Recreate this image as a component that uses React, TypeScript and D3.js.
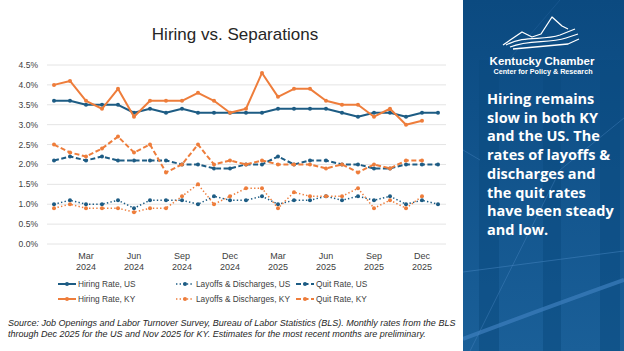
import * as d3 from "d3"

const W = 624
const H = 351

// monthly rates, % (Excel category axis, 25 slots)
const months = d3.range(25).map((i) => new Date(2024, i, 1))
const tickMonths = [2, 5, 8, 11] // Mar, Jun, Sep, Dec

const hiringUS = [3.6, 3.6, 3.5, 3.5, 3.5, 3.3, 3.4, 3.3, 3.4, 3.3, 3.3, 3.3, 3.3, 3.3, 3.4, 3.4, 3.4, 3.4, 3.3, 3.2, 3.3, 3.3, 3.2, 3.3, 3.3]
const hiringKY = [4.0, 4.1, 3.6, 3.4, 3.9, 3.2, 3.6, 3.6, 3.6, 3.8, 3.6, 3.3, 3.4, 4.3, 3.7, 3.9, 3.9, 3.6, 3.5, 3.5, 3.2, 3.4, 3.0, 3.1]
const layoffsUS = [1.0, 1.1, 1.0, 1.0, 1.1, 0.9, 1.1, 1.1, 1.1, 1.0, 1.2, 1.1, 1.1, 1.2, 1.0, 1.1, 1.1, 1.2, 1.1, 1.2, 1.1, 1.2, 1.0, 1.1, 1.0]
const layoffsKY = [0.9, 1.0, 0.9, 0.9, 0.9, 0.8, 0.9, 0.9, 1.2, 1.5, 1.0, 1.2, 1.4, 1.4, 0.9, 1.3, 1.2, 1.2, 1.2, 1.4, 0.9, 1.1, 0.9, 1.2]
const quitUS = [2.1, 2.2, 2.1, 2.2, 2.1, 2.1, 2.1, 2.1, 2.0, 2.0, 1.9, 1.9, 2.0, 2.0, 2.2, 2.0, 2.1, 2.1, 2.0, 2.0, 1.9, 1.9, 2.0, 2.0, 2.0]
const quitKY = [2.5, 2.3, 2.2, 2.4, 2.7, 2.3, 2.5, 1.8, 2.0, 2.5, 2.0, 2.1, 2.0, 2.1, 2.0, 2.0, 2.0, 1.9, 2.0, 1.8, 2.0, 1.9, 2.1, 2.1]

const yTicks = [0, 0.5, 1, 1.5, 2, 2.5, 3, 3.5, 4, 4.5]

const BLUE = "#1d5c84"
const ORANGE = "#ee7d3b"

const SOLID = ""
const DASH = "5,2.5"
const DOT = "1.4,2.2"

const series = [
  { name: "Hiring Rate, US", values: hiringUS, color: BLUE, dash: SOLID, width: 2 },
  { name: "Layoffs & Discharges, US", values: layoffsUS, color: BLUE, dash: DOT, width: 1.5 },
  { name: "Quit Rate, US", values: quitUS, color: BLUE, dash: DASH, width: 2 },
  { name: "Hiring Rate, KY", values: hiringKY, color: ORANGE, dash: SOLID, width: 2 },
  { name: "Layoffs & Discharges, KY", values: layoffsKY, color: ORANGE, dash: DOT, width: 1.5 },
  { name: "Quit Rate, KY", values: quitKY, color: ORANGE, dash: DASH, width: 2 },
]

const panelLines = [
  "Hiring remains",
  "slow in both KY",
  "and the US. The",
  "rates of layoffs &",
  "discharges and",
  "the quit rates",
  "have been steady",
  "and low.",
]

const FONT = "'Liberation Sans', Arial, sans-serif"

function Chart() {
  const x = d3.scalePoint<number>().domain(d3.range(months.length)).range([54, 438])
  const y = d3.scaleLinear().domain([0, 4.5]).range([244, 65])
  const line = d3
    .line<number>()
    .x((_, i) => x(i)!)
    .y((d) => y(d))
  const fmtM = d3.timeFormat("%b")
  const fmtY = d3.timeFormat("%Y")

  const legendX = [58, 176, 296]
  const legendY = [284, 299]

  return (
    <g>
      <text x={235} y={40} textAnchor="middle" fontSize={17} fill="#262626" fontFamily={FONT}>
        Hiring vs. Separations
      </text>
      {yTicks.map((t) => (
        <g key={t}>
          <line x1={47} x2={446} y1={y(t)} y2={y(t)} stroke="#e4e4e4" strokeWidth={1} />
          <text x={38} y={y(t)} dy="0.35em" textAnchor="end" fontSize={8.5} fill="#404040" fontFamily={FONT}>
            {d3.format(".1f")(t)}%
          </text>
        </g>
      ))}
      {months.map((m, i) =>
        tickMonths.includes(m.getMonth()) ? (
          <text key={i} x={x(i)} textAnchor="middle" fontSize={9} fill="#404040" fontFamily={FONT}>
            <tspan x={x(i)} y={259}>{fmtM(m)}</tspan>
            <tspan x={x(i)} y={270}>{fmtY(m)}</tspan>
          </text>
        ) : null
      )}
      {series.map((s) => (
        <g key={s.name}>
          <path
            d={line(s.values) ?? ""}
            fill="none"
            stroke={s.color}
            strokeWidth={s.width}
            strokeDasharray={s.dash || undefined}
            strokeLinejoin="round"
          />
          {s.values.map((v, i) => (
            <circle key={i} cx={x(i)} cy={y(v)} r={2} fill={s.color} />
          ))}
        </g>
      ))}
      {series.map((s, k) => {
        const lx = legendX[k % 3]
        const ly = legendY[Math.floor(k / 3)]
        return (
          <g key={s.name}>
            <line x1={lx} x2={lx + 18} y1={ly} y2={ly} stroke={s.color} strokeWidth={s.width} strokeDasharray={s.dash || undefined} />
            <circle cx={lx + 9} cy={ly} r={2} fill={s.color} />
            <text x={lx + 20} y={ly} dy="0.35em" fontSize={8.3} fill="#404040" fontFamily={FONT}>
              {s.name}
            </text>
          </g>
        )
      })}
      <text fontSize={9} fontStyle="italic" fill="#262626" fontFamily={FONT}>
        <tspan x={8} y={326}>
          Source: Job Openings and Labor Turnover Survey, Bureau of Labor Statistics (BLS). Monthly rates from the BLS
        </tspan>
        <tspan x={8} y={337}>
          through Dec 2025 for the US and Nov 2025 for KY. Estimates for the most recent months are preliminary.
        </tspan>
      </text>
    </g>
  )
}

function Panel() {
  const px = 463
  return (
    <g>
      <defs>
        <linearGradient id="pg" x1="0" y1="0" x2="0" y2="1">
          <stop offset="0" stopColor="#0b4a80" />
          <stop offset="0.3" stopColor="#0f5088" />
          <stop offset="1" stopColor="#1a5f98" />
        </linearGradient>
        <clipPath id="pc">
          <rect x={px} y={0} width={W - px} height={H} />
        </clipPath>
      </defs>
      <rect x={px} y={0} width={W - px} height={H} fill="url(#pg)" />
      <g clipPath="url(#pc)">
        <rect x={479} y={60} width={20} height={H} fill="#0b4a80" opacity={0.55} />
        <rect x={543} y={60} width={18} height={H} fill="#0b4a80" opacity={0.55} />
        <rect x={600} y={60} width={20} height={H} fill="#0b4a80" opacity={0.55} />
        <path d="M463,339 Q540,310 624,280" stroke="#3d7fbe" strokeWidth={4} fill="none" opacity={0.7} />
        <path d="M463,272 L624,251" stroke="#4a88c4" strokeWidth={0.8} fill="none" opacity={0.6} />
        <path d="M470,351 L560,170 L624,118" stroke="#4a88c4" strokeWidth={0.8} fill="none" opacity={0.5} />
        <path d="M463,150 L480,160" stroke="#4a88c4" strokeWidth={0.8} fill="none" opacity={0.5} />
        <path d="M560,0 L500,70" stroke="#2f6aa6" strokeWidth={0.7} fill="none" opacity={0.5} />
      </g>
      <g fill="none" stroke="#fff" strokeWidth={1.3} strokeLinejoin="round">
        <path d="M503,45 L522,32 L532,37 L541,34 L552,17 L562,26 L568,29" />
        <path d="M506,45 C525,35 542,41 560,35 L575,29" />
        <path d="M510,47 C530,39 548,44 566,38 L578,34" />
        <path d="M513,49 L568,44 L579,39" />
      </g>
      <text x={542} y={65} textAnchor="middle" fontSize={11.5} fontWeight="bold" fill="#fff" fontFamily={FONT}>
        Kentucky Chamber
      </text>
      <text x={543} y={74} textAnchor="middle" fontSize={7.2} fontWeight="bold" fill="#fff" fontFamily={FONT}>
        Center for Policy &amp; Research
      </text>
      <text fontSize={14.5} fontWeight="bold" fill="#fff" fontFamily="'Open Sans', sans-serif">
        {panelLines.map((l, i) => (
          <tspan key={i} x={487} y={104 + i * 18.7}>
            {l}
          </tspan>
        ))}
      </text>
    </g>
  )
}

export default function App() {
  return (
    <svg
      width={W}
      height={H}
      viewBox={`0 0 ${W} ${H}`}
      style={{ position: "absolute", left: 0, top: 0, background: "#fff" }}
    >
      <rect width={W} height={H} fill="#fff" />
      <Chart />
      <Panel />
    </svg>
  )
}
